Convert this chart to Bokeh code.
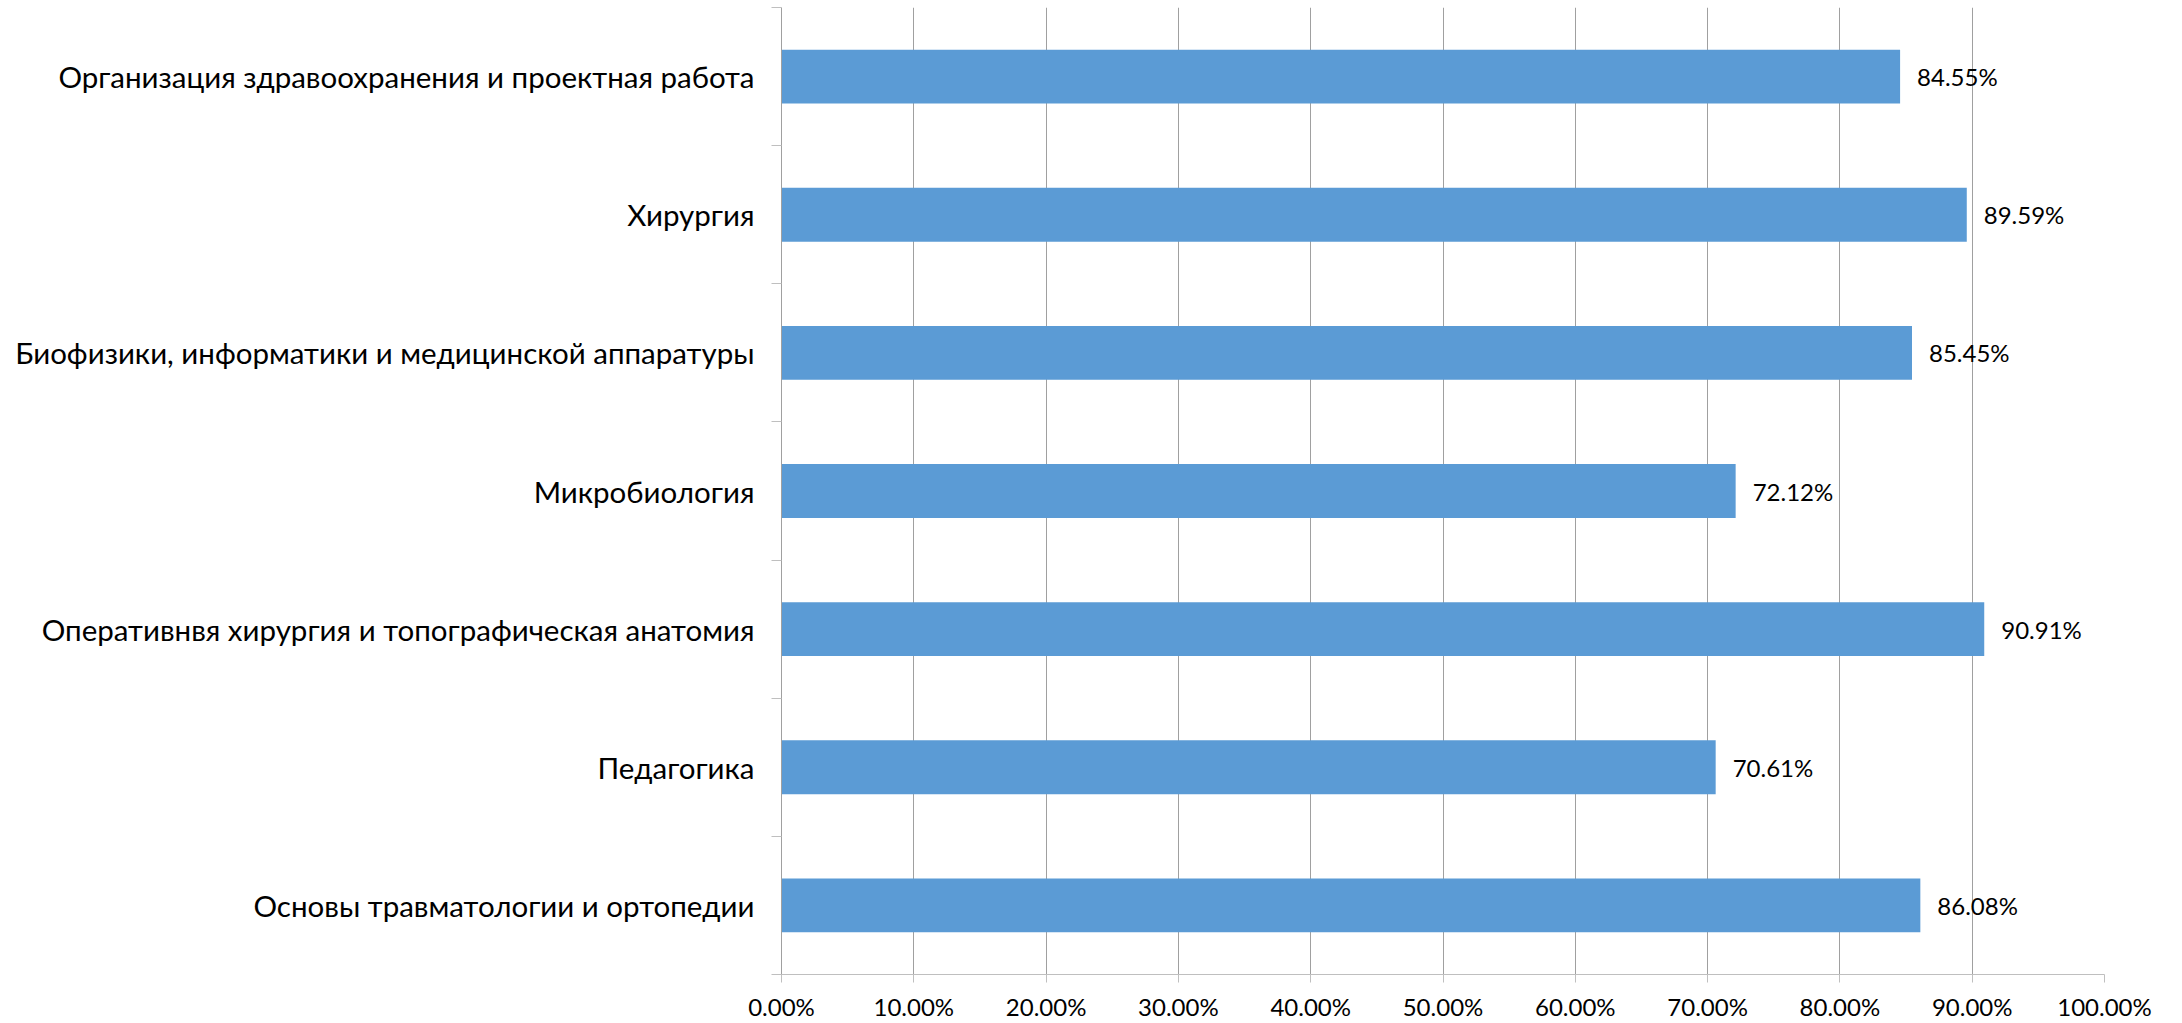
from bokeh.plotting import figure
from bokeh.models import Range1d, FixedTicker, NumeralTickFormatter, ColumnDataSource, LabelSet
from bokeh.embed import file_html
from bokeh.resources import INLINE
from bokeh.core.properties import value

categories = [
    "Организация здравоохранения и проектная работа",
    "Хирургия",
    "Биофизики, информатики и медицинской аппаратуры",
    "Микробиология",
    "Оперативнвя хирургия и топографическая анатомия",
    "Педагогика",
    "Основы травматологии и ортопедии",
]
values = [0.8455, 0.8959, 0.8545, 0.7212, 0.9091, 0.7061, 0.8608]
value_labels = ["84.55%", "89.59%", "85.45%", "72.12%", "90.91%", "70.61%", "86.08%"]
x_ticks = [0.0, 0.1, 0.2, 0.3, 0.4, 0.5, 0.6, 0.7, 0.8, 0.9, 1.0]

n = len(categories)
ypos = [n - 1 - i + 0.5 for i in range(n)]
boundaries = list(range(n + 1))

FONT = "Lato"
GRID = "#a0a0a0"
AXIS = "#bfbfbf"

src = ColumnDataSource(dict(y=ypos, v=values, lab=value_labels, cat=categories))

p = figure(width=2182, height=1023, output_backend="svg", toolbar_location=None,
           x_range=Range1d(0, 1), y_range=Range1d(0, n),
           min_border_left=781, min_border_right=78, min_border_top=7, min_border_bottom=48)
p.outline_line_color = None
p.background_fill_color = "white"

p.hbar(y="y", right="v", left=0, height=0.39, source=src, fill_color="#5b9bd5", line_color=None)

labels = LabelSet(x="v", y="y", text="lab", source=src, x_offset=17, text_baseline="middle",
                  text_align="left", text_font=value(FONT), text_font_size="24px", text_color="#000000")
p.add_layout(labels)

# x axis
p.xaxis.ticker = FixedTicker(ticks=x_ticks)
p.xaxis.formatter = NumeralTickFormatter(format="0.00%")
p.xaxis.major_tick_out = 8
p.xaxis.major_tick_in = 0
p.xaxis.minor_tick_out = 0
p.xaxis.minor_tick_in = 0
p.xaxis.major_label_standoff = 9
p.xaxis.major_label_text_font = FONT
p.xaxis.major_label_text_font_size = "24px"
p.xaxis.major_label_text_color = "#000000"
p.xaxis.axis_line_color = AXIS
p.xaxis.major_tick_line_color = AXIS

# y axis
p.yaxis.ticker = FixedTicker(ticks=ypos, minor_ticks=boundaries)
p.yaxis.major_label_overrides = {y: c for y, c in zip(ypos, categories)}
p.yaxis.major_tick_out = 0
p.yaxis.major_tick_in = 0
p.yaxis.minor_tick_out = 10
p.yaxis.minor_tick_in = 0
p.yaxis.minor_tick_line_color = AXIS
p.yaxis.major_label_standoff = 17
p.yaxis.major_label_text_font = FONT
p.yaxis.major_label_text_font_size = "29.5px"
p.yaxis.major_label_text_color = "#000000"
p.yaxis.axis_line_color = GRID

p.xgrid.ticker = FixedTicker(ticks=x_ticks)
p.xgrid.grid_line_color = GRID
p.ygrid.grid_line_color = None

open("out.html", "w").write(file_html(p, INLINE))
